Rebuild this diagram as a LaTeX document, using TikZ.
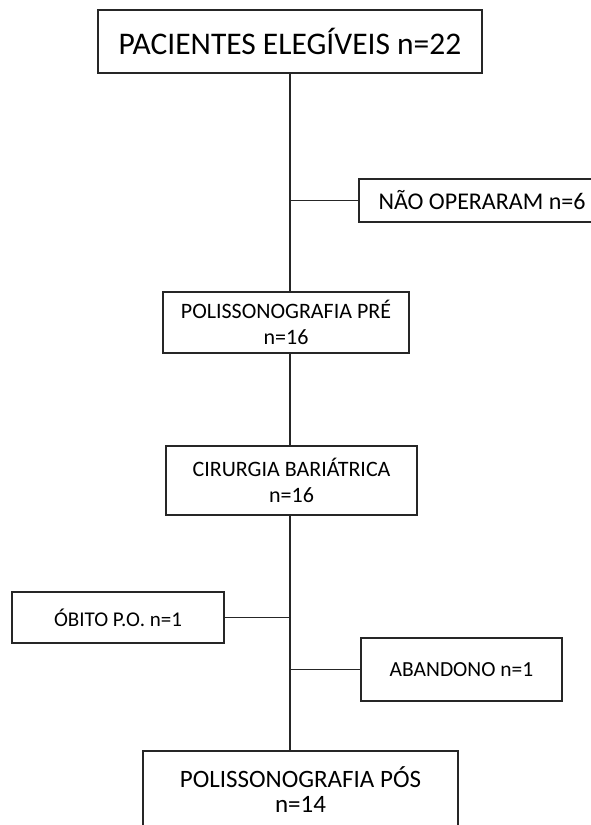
\documentclass[tikz,border=0pt]{standalone}
\usepackage{fontspec}
\setmainfont{Carlito}

\tikzset{
  caixa/.style={draw=black!85, line width=1.1pt, fill=white, inner sep=0pt, align=center},
  ligacao/.style={draw=black!85, line width=1.1pt}
}

\begin{document}
\begin{tikzpicture}[x=1pt,y=-1pt]
\useasboundingbox (0,0) rectangle (590,825);
% caixas
\node[caixa, minimum width=384pt, minimum height=63pt, font=\fontsize{31.5}{33}\selectfont] (pac) at (290,41.5) {PACIENTES ELEGÍVEIS n=22};
\node[caixa, minimum width=246pt, minimum height=43pt, font=\fontsize{24}{26}\selectfont] (nao) at (482,200.5) {NÃO OPERARAM n=6};
\node[caixa, minimum width=246pt, minimum height=61pt, font=\fontsize{22}{26}\selectfont] (pre) at (286,322.5) {POLISSONOGRAFIA PRÉ\\n=16};
\node[caixa, minimum width=251pt, minimum height=69pt, font=\fontsize{22}{26}\selectfont] (cir) at (291.5,480.5) {CIRURGIA BARIÁTRICA\\n=16};
\node[caixa, minimum width=212pt, minimum height=51pt, font=\fontsize{21}{24}\selectfont] (obi) at (118,617.5) {ÓBITO P.O. n=1};
\node[caixa, minimum width=201pt, minimum height=63pt, font=\fontsize{21.5}{24}\selectfont] (aba) at (461.5,669.5) {ABANDONO n=1};
\node[caixa, minimum width=315pt, minimum height=78pt, font=\fontsize{25}{25}\selectfont] (pos) at (300.5,790) {POLISSONOGRAFIA PÓS\\n=14};
% eixo central
\draw[ligacao] (pac.south) -- (pac.south |- pre.north);
\draw[ligacao] (pac.south |- pre.south) -- (pac.south |- cir.north);
\draw[ligacao] (pac.south |- cir.south) -- (pac.south |- pos.north);
% ramos
\coordinate (r1) at (pac.south |- nao.west);
\coordinate (r2) at (pac.south |- obi.east);
\coordinate (r3) at (pac.south |- aba.west);
\draw[ligacao] (r1) -- (nao.west);
\draw[ligacao] (r2) -- (obi.east);
\draw[ligacao] (r3) -- (aba.west);
\end{tikzpicture}
\end{document}
